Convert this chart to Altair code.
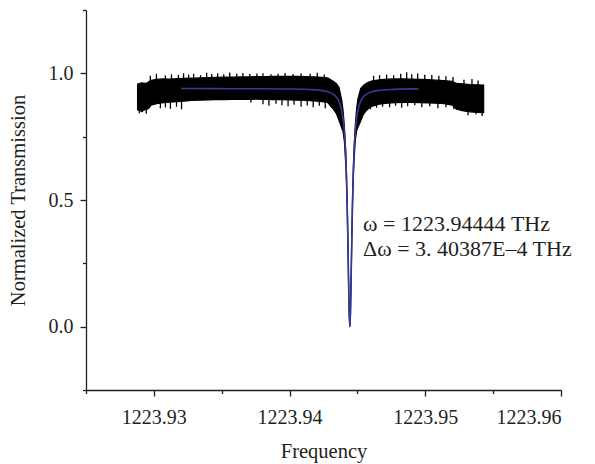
import altair as alt
import pandas as pd

FONT = "Liberation Serif"
INK = "#231f20"

# ---- measured transmission: envelope of the dense noisy trace ----
band_f = [
    1223.9288, 1223.9291, 1223.9294, 1223.9296, 1223.9298, 1223.9302, 1223.9307,
    1223.9312, 1223.9317, 1223.9322, 1223.9328, 1223.9334, 1223.9340, 1223.9346,
    1223.9352, 1223.9358, 1223.9364, 1223.9370, 1223.9376, 1223.9382, 1223.9388,
    1223.9394, 1223.9400, 1223.9406, 1223.9412, 1223.9418, 1223.9424, 1223.9428,
    1223.94304, 1223.94324, 1223.94344, 1223.94364, 1223.94384, 1223.94394,
    1223.94404, 1223.94414, 1223.94419, 1223.94424, 1223.94429, 1223.94434,
    1223.94439, 1223.94444, 1223.94449, 1223.94454, 1223.94459, 1223.94464,
    1223.94469, 1223.94474, 1223.94484, 1223.94494, 1223.94504, 1223.94524,
    1223.94544, 1223.94564, 1223.94584,
    1223.9461, 1223.9466, 1223.9472, 1223.9478, 1223.9484, 1223.9490, 1223.9496,
    1223.9502, 1223.9508, 1223.9514, 1223.9520, 1223.9523, 1223.9528, 1223.9533,
    1223.9538, 1223.9543,
]
band_hi = [
    0.958, 0.962, 0.960, 0.966, 0.972, 0.976, 0.978,
    0.977, 0.979, 0.980, 0.981, 0.982, 0.983, 0.984,
    0.985, 0.985, 0.986, 0.986, 0.987, 0.987, 0.988,
    0.988, 0.988, 0.988, 0.987, 0.986, 0.984, 0.982,
    0.975, 0.968, 0.960, 0.945, 0.895, 0.855,
    0.790, 0.690, 0.610, 0.510, 0.375, 0.215,
    0.072, 0.010, 0.072, 0.218, 0.378, 0.512,
    0.612, 0.692, 0.795, 0.860, 0.900, 0.940,
    0.952, 0.960, 0.966,
    0.970, 0.974, 0.977, 0.978, 0.978, 0.977, 0.976,
    0.975, 0.973, 0.971, 0.968, 0.960, 0.958, 0.956,
    0.955, 0.954,
]
band_lo = [
    0.856, 0.850, 0.858, 0.860, 0.874, 0.880, 0.884,
    0.886, 0.888, 0.890, 0.893, 0.894, 0.895, 0.896,
    0.896, 0.897, 0.897, 0.897, 0.898, 0.897, 0.896,
    0.896, 0.895, 0.894, 0.893, 0.891, 0.888, 0.885,
    0.870, 0.858, 0.842, 0.815, 0.785, 0.770,
    0.730, 0.640, 0.575, 0.475, 0.345, 0.190,
    0.050, 0.000, 0.052, 0.192, 0.347, 0.478,
    0.578, 0.642, 0.735, 0.772, 0.787, 0.812,
    0.838, 0.852, 0.862,
    0.870, 0.878, 0.882, 0.884, 0.885, 0.885, 0.884,
    0.883, 0.882, 0.880, 0.874, 0.858, 0.852, 0.848,
    0.846, 0.845,
]

# ---- noise spikes poking out of the band ----
spike_up_f = [
    1223.92974, 1223.93019, 1223.93085, 1223.93130, 1223.93181, 1223.93219,
    1223.93256, 1223.93293, 1223.93344, 1223.93389, 1223.93426, 1223.93470,
    1223.93515, 1223.93559, 1223.93611, 1223.93656, 1223.93707, 1223.93759,
    1223.93804, 1223.93863, 1223.93915, 1223.93967, 1223.94026, 1223.94085,
    1223.94152, 1223.94204, 1223.94256,
    1223.94619, 1223.94663, 1223.94715, 1223.94767, 1223.94819, 1223.94863,
    1223.94900, 1223.94944, 1223.94996, 1223.95048, 1223.95100, 1223.95152,
    1223.95204, 1223.95285, 1223.95344, 1223.95389,
]
spike_up_t = [
    0.990, 0.998, 0.992, 0.996, 0.994, 1.000,
    0.995, 0.998, 0.993, 1.002, 0.997, 1.000,
    0.996, 1.003, 0.998, 1.001, 0.997, 0.999,
    1.000, 0.996, 0.998, 1.001, 0.997, 0.999,
    0.998, 1.002, 0.995,
    0.990, 0.993, 0.995, 0.992, 0.998, 1.004,
    0.996, 0.999, 0.994, 0.993, 0.990, 0.988,
    0.986, 0.975, 0.978, 0.972,
]
spike_dn_f = [
    1223.92893, 1223.92915, 1223.92944, 1223.93048, 1223.93085, 1223.93122,
    1223.93167, 1223.93204, 1223.93715, 1223.93804, 1223.93848, 1223.93900,
    1223.93944, 1223.93989, 1223.94033, 1223.94085, 1223.94130, 1223.94174,
    1223.94219, 1223.94263,
    1223.94559, 1223.94596, 1223.94641, 1223.94685, 1223.94737, 1223.94781,
    1223.94826, 1223.94870, 1223.94922, 1223.94974, 1223.95033, 1223.95093,
    1223.95152, 1223.95211, 1223.95315, 1223.95374, 1223.95419,
]
spike_dn_t = [
    0.842, 0.846, 0.840, 0.862, 0.866, 0.860,
    0.868, 0.858, 0.885, 0.878, 0.872, 0.880,
    0.874, 0.870, 0.876, 0.868, 0.873, 0.866,
    0.872, 0.862,
    0.850, 0.858, 0.864, 0.868, 0.866, 0.872,
    0.864, 0.870, 0.874, 0.866, 0.870, 0.862,
    0.866, 0.858, 0.835, 0.838, 0.832,
]

# ---- Lorentzian fit (blue) ----
fit_f = [
    1223.93200, 1223.93444, 1223.93744, 1223.93994, 1223.94144, 1223.94224,
    1223.94274, 1223.94314, 1223.94344, 1223.94364, 1223.94384, 1223.94394,
    1223.94404, 1223.94414, 1223.94419, 1223.94424, 1223.94429, 1223.94434,
    1223.94439, 1223.94444, 1223.94449, 1223.94454, 1223.94459, 1223.94464,
    1223.94469, 1223.94474, 1223.94484, 1223.94494, 1223.94504, 1223.94524,
    1223.94544, 1223.94574, 1223.94614, 1223.94664, 1223.94744, 1223.94894,
    1223.94950,
]
fit_t = [
    0.940, 0.9397, 0.939, 0.938, 0.936, 0.933,
    0.928, 0.920, 0.907, 0.890, 0.854, 0.821,
    0.767, 0.671, 0.596, 0.494, 0.361, 0.204,
    0.061, 0.000, 0.061, 0.204, 0.361, 0.494,
    0.596, 0.671, 0.767, 0.821, 0.854, 0.890,
    0.907, 0.920, 0.928, 0.933, 0.936, 0.9385,
    0.9387,
]

x_ticks = [1223.925, 1223.93, 1223.935, 1223.94, 1223.945, 1223.95, 1223.955, 1223.96]
y_ticks = [-0.25, 0.0, 0.25, 0.5, 0.75, 1.0, 1.25]
annot = ["ω = 1223.94444 THz", "Δω = 3. 40387E–4 THz"]

band_df = pd.DataFrame({"f": band_f, "t": band_hi, "t2": band_lo})
up_df = pd.DataFrame({"f": spike_up_f, "t": spike_up_t})
dn_df = pd.DataFrame({"f": spike_dn_f, "t": spike_dn_t})
fit_df = pd.DataFrame({"f": fit_f, "t": fit_t})
txt_df = pd.DataFrame({"label": ["\n".join(annot)]})

major_x = "abs(datum.value*100 - round(datum.value*100)) < 0.001"
major_y = "abs(datum.value*2 - round(datum.value*2)) < 0.001"

x_enc = alt.X(
    "f:Q",
    scale=alt.Scale(domain=[1223.925, 1223.96], nice=False, zero=False),
    axis=alt.Axis(
        title="Frequency",
        values=x_ticks,
        labelExpr=f"{major_x} ? format(datum.value, '.2f') : ''",
        tickSize={"condition": {"test": major_x, "value": 6}, "value": 3.5},
        grid=False,
        labelPadding=11,
        titlePadding=14,
    ),
)
y_enc = alt.Y(
    "t:Q",
    scale=alt.Scale(domain=[-0.25, 1.25], nice=False, zero=False),
    axis=alt.Axis(
        title="Normalized Transmission",
        values=y_ticks,
        labelExpr=f"{major_y} ? format(datum.value, '.1f') : ''",
        tickSize={"condition": {"test": major_y, "value": 6}, "value": 3.5},
        grid=False,
        labelPadding=7,
        titlePadding=20,
    ),
)

band = alt.Chart(band_df).mark_area(
    color="black", stroke="black", strokeWidth=1.2, opacity=1
).encode(x=x_enc, y=y_enc, y2="t2:Q")

spikes_up = alt.Chart(up_df).mark_rule(color="black", strokeWidth=1.3).encode(
    x="f:Q", y="t:Q", y2=alt.datum(0.95)
)
spikes_dn = alt.Chart(dn_df).mark_rule(color="black", strokeWidth=1.3).encode(
    x="f:Q", y="t:Q", y2=alt.datum(0.92)
)

fit = alt.Chart(fit_df).mark_line(
    color="#34399a", strokeWidth=1.6, interpolate="monotone"
).encode(x="f:Q", y="t:Q")

text = alt.Chart(txt_df).mark_text(
    align="left", baseline="alphabetic", font=FONT, fontSize=22, color=INK,
    lineBreak="\n", lineHeight=25,
).encode(
    text="label:N",
    x=alt.value(277),
    y=alt.value(221),
)

chart = (
    alt.layer(band, spikes_up, spikes_dn, fit, text)
    .properties(
        width=475,
        height=380,
        autosize=alt.AutoSizeParams(type="none"),
        padding={"left": 86, "top": 10, "right": 34, "bottom": 74},
    )
    .configure_view(stroke=None)
    .configure_axis(
        labelFont=FONT,
        titleFont=FONT,
        labelFontSize=20,
        titleFontSize=20.5,
        labelColor=INK,
        titleColor=INK,
        titleFontWeight="normal",
        domainColor=INK,
        tickColor=INK,
        domainWidth=1.3,
        tickWidth=1.3,
    )
)

chart.save("out.html", embed_options={"renderer": "svg", "actions": False})
